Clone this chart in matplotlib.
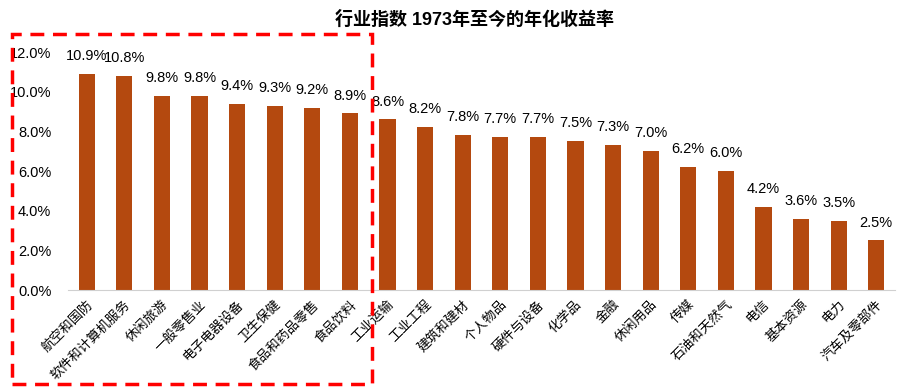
import matplotlib
matplotlib.use("Agg")
import matplotlib.pyplot as plt
from matplotlib.patches import Rectangle
from matplotlib.ticker import FuncFormatter

plt.rcParams['font.family'] = ['Liberation Sans', 'Noto Sans CJK SC', 'DejaVu Sans']

# 行业及年化收益率(%)
industries = ["航空和国防", "软件和计算机服务", "休闲旅游", "一般零售业", "电子电器设备",
              "卫生保健", "食品和药品零售", "食品饮料", "工业运输", "工业工程",
              "建筑和建材", "个人物品", "硬件与设备", "化学品", "金融", "休闲用品",
              "传媒", "石油和天然气", "电信", "基本资源", "电力", "汽车及零部件"]
returns = [10.9, 10.8, 9.8, 9.8, 9.4, 9.3, 9.2, 8.9, 8.6, 8.2, 7.8, 7.7,
           7.7, 7.5, 7.3, 7.0, 6.2, 6.0, 4.2, 3.6, 3.5, 2.5]
yticks = [0, 2, 4, 6, 8, 10, 12]

W, H = 911, 387
fig = plt.figure(figsize=(W / 100, H / 100), dpi=100)
ax = fig.add_axes([68 / W, 1 - 290 / H, 827 / W, (290 - 52) / H])

x = range(len(industries))
ax.bar(x, returns, width=0.43, color='#B4490F')
for xi, v in zip(x, returns):
    ax.text(xi, v + 0.55, f"{v:.1f}%", ha='center', va='bottom', fontsize=10.5)

ax.set_xlim(-0.5, len(industries) - 0.5)
ax.set_ylim(0, 12)
ax.set_yticks(yticks)
ax.yaxis.set_major_formatter(FuncFormatter(lambda v, p: f"{v:.1f}%"))
ax.tick_params(axis='y', length=0, labelsize=10.5, pad=12)
ax.set_xticks(list(x))
ax.set_xticklabels(industries, rotation=45, ha='right', va='top',
                   rotation_mode='anchor', fontsize=9.5)
ax.tick_params(axis='x', length=0, pad=6)
for s in ['top', 'right', 'left']:
    ax.spines[s].set_visible(False)
ax.spines['bottom'].set_color('#D0D0D0')

fig.text(474 / W, 1 - 20 / H, "行业指数 1973年至今的年化收益率", ha='center', va='center',
         fontsize=13, fontweight='bold')

# 红色虚线框
rect = Rectangle((12 / W, 1 - 384 / H), (372 - 12) / W, (384 - 34) / H,
                 transform=fig.transFigure, fill=False, edgecolor='#FF0000',
                 linewidth=2.5, linestyle=(0, (4, 2.5)))
fig.patches.append(rect)

fig.savefig("out.png", dpi=100)
